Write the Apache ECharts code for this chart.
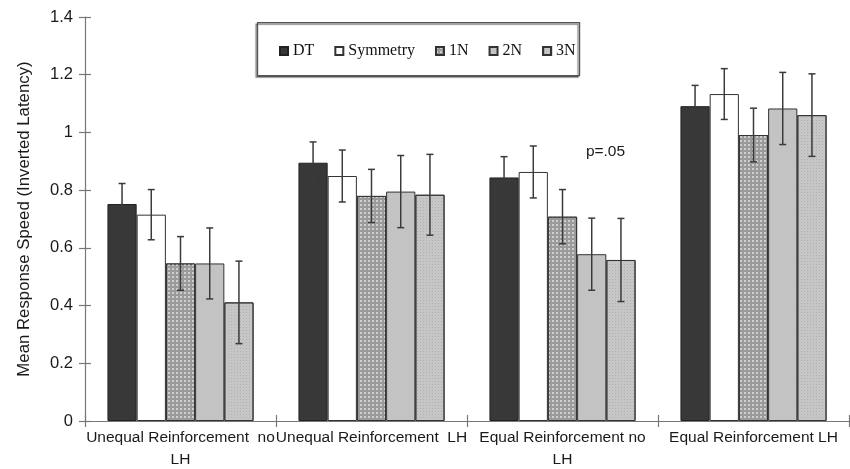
<!DOCTYPE html>
<html><head><meta charset="utf-8">
<script src="https://cdn.jsdelivr.net/npm/echarts@6/dist/echarts.min.js"></script>
<style>html,body{margin:0;padding:0;background:#fff}#c{width:850px;height:469px}</style>
</head><body><div id="c"></div>
<script>
const categories = ['Unequal Reinforcement no LH', 'Unequal Reinforcement LH', 'Equal Reinforcement no LH', 'Equal Reinforcement LH'];
const tickLabels = ['Unequal Reinforcement  no\nLH', 'Unequal Reinforcement  LH', 'Equal Reinforcement no\nLH', 'Equal Reinforcement LH'];
const seriesNames = ['DT', 'Symmetry', '1N', '2N', '3N'];
const DT = [0.752, 0.895, 0.844, 1.091];
const Symmetry = [0.715, 0.849, 0.863, 1.133];
const N1 = [0.546, 0.780, 0.708, 0.991];
const N2 = [0.546, 0.795, 0.578, 1.083];
const N3 = [0.411, 0.784, 0.558, 1.060];
const errDT = [0.071, 0.072, 0.072, 0.072];
const errSymmetry = [0.087, 0.090, 0.090, 0.088];
const errN1 = [0.093, 0.092, 0.094, 0.093];
const errN2 = [0.123, 0.125, 0.125, 0.125];
const errN3 = [0.143, 0.140, 0.144, 0.143];
const yTicks = [0, 0.2, 0.4, 0.6, 0.8, 1, 1.2, 1.4];
const annotation = { text: 'p=.05', category: 2, value: 0.932 };

const values = [DT, Symmetry, N1, N2, N3];
const errors = [errDT, errSymmetry, errN1, errN2, errN3];
const GAP = 0.235;
const sans = "'Liberation Sans', Arial, sans-serif";

const styles = [
  { color: '#383838', borderColor: '#222', borderWidth: 1 },
  { color: '#ffffff', borderColor: '#333', borderWidth: 1 },
  { color: '#9a9a9a', borderColor: '#333', borderWidth: 1,
    decal: { symbol: 'rect', symbolSize: 1, dashArrayX: [2, 2], dashArrayY: [2, 2], color: 'rgba(215,215,215,0.85)' } },
  { color: '#c3c3c3', borderColor: '#333', borderWidth: 1 },
  { color: '#c6c6c6', borderColor: '#333', borderWidth: 1,
    decal: { symbol: 'rect', symbolSize: 1, dashArrayX: [1, 2], dashArrayY: [1, 2], color: 'rgba(160,160,160,0.55)' } }
];

const errData = [];
values.forEach((arr, si) => arr.forEach((v, ci) => {
  errData.push([ci, v - errors[si][ci], v + errors[si][ci], si]);
}));

const series = seriesNames.map((name, si) => ({
  name, type: 'bar', data: values[si], barGap: '0%', barCategoryGap: (GAP * 100) + '%',
  itemStyle: styles[si], emphasis: { disabled: true }, animation: false
}));
series.push({
  type: 'custom', name: 'err', z: 10, animation: false, silent: true,
  data: errData,
  renderItem: function (params, api) {
    const ci = api.value(0), lo = api.value(1), hi = api.value(2), si = api.value(3);
    const band = api.size([1, 0])[0];
    const bw = band * (1 - GAP) / 5;
    const cx = api.coord([ci, 0])[0] + (si - 2) * bw;
    const yt = api.coord([ci, hi])[1];
    const yb = api.coord([ci, lo])[1];
    const cap = 3.5;
    const st = { stroke: '#3a3a3a', lineWidth: 1.5 };
    return { type: 'group', children: [
      { type: 'line', shape: { x1: cx, y1: yt, x2: cx, y2: yb }, style: st },
      { type: 'line', shape: { x1: cx - cap, y1: yt, x2: cx + cap, y2: yt }, style: st },
      { type: 'line', shape: { x1: cx - cap, y1: yb, x2: cx + cap, y2: yb }, style: st }
    ]};
  }
});

const chart = echarts.init(document.getElementById('c'), null, { renderer: 'canvas' });
const axisLine = { show: true, lineStyle: { color: '#777', width: 1.2 } };
chart.setOption({
  animation: false,
  backgroundColor: '#fff',
  grid: { left: 85, right: 1, top: 17, bottom: 48, containLabel: false, outerBoundsMode: 'none' },
  legend: {
    data: seriesNames, left: 279, top: 43, padding: 0, icon: 'rect', itemWidth: 8, itemHeight: 8, itemGap: 20,
    textStyle: { fontFamily: "'Liberation Serif', 'Times New Roman', serif", fontSize: 16, color: '#111' },
    selectedMode: false
  },
  graphic: [{
    type: 'rect', left: 257, top: 22, z: -1,
    shape: { width: 322, height: 53 },
    style: { fill: '#fff', stroke: '#555', lineWidth: 1.2, shadowColor: 'rgba(0,0,0,0.55)', shadowOffsetX: -1.5, shadowOffsetY: 1.5, shadowBlur: 1 }
  }],
  xAxis: [{
    type: 'category', data: categories, axisLine,
    axisTick: { show: true, length: 6, interval: 0, lineStyle: { color: '#777', width: 1.2 } },
    axisLabel: { interval: 0, margin: 6, color: '#1a1a1a', fontFamily: sans, fontSize: 15.5, lineHeight: 22,
      formatter: (v, i) => tickLabels[i] }
  }, {
    type: 'category', data: categories, position: 'bottom', offset: 0,
    axisLine: { show: false }, axisLabel: { show: false },
    axisTick: { show: true, inside: true, length: 6, interval: 0, lineStyle: { color: '#777', width: 1.2 } }
  }],
  yAxis: [{
    type: 'value', min: 0, max: 1.4, interval: 0.2, axisLine,
    splitLine: { show: false },
    axisTick: { show: true, length: 6, lineStyle: { color: '#777', width: 1.2 } },
    axisLabel: { margin: 12, color: '#1a1a1a', fontFamily: sans, fontSize: 16.5,
      formatter: v => { const t = yTicks.find(x => Math.abs(x - v) < 1e-6); return t === undefined ? '' : String(t); } },
    name: 'Mean Response Speed (Inverted Latency)', nameLocation: 'middle', nameGap: 52,
    nameTextStyle: { fontFamily: sans, fontSize: 16.8, color: '#1a1a1a' }
  }, {
    type: 'value', min: 0, max: 1.4, interval: 0.2, position: 'left', offset: 0,
    axisLine: { show: false }, axisLabel: { show: false }, splitLine: { show: false },
    axisTick: { show: true, inside: true, length: 6, lineStyle: { color: '#777', width: 1.2 } }
  }],
  series
});

const p = chart.convertToPixel({ xAxisIndex: 0, yAxisIndex: 0 }, [annotation.category, annotation.value]);
chart.setOption({
  graphic: [{}, {
    type: 'text', x: p[0] + 43, y: p[1],
    style: { text: annotation.text, fontFamily: sans, fontSize: 15.5, fill: '#1a1a1a', align: 'center', verticalAlign: 'middle' }
  }]
});
</script></body></html>
